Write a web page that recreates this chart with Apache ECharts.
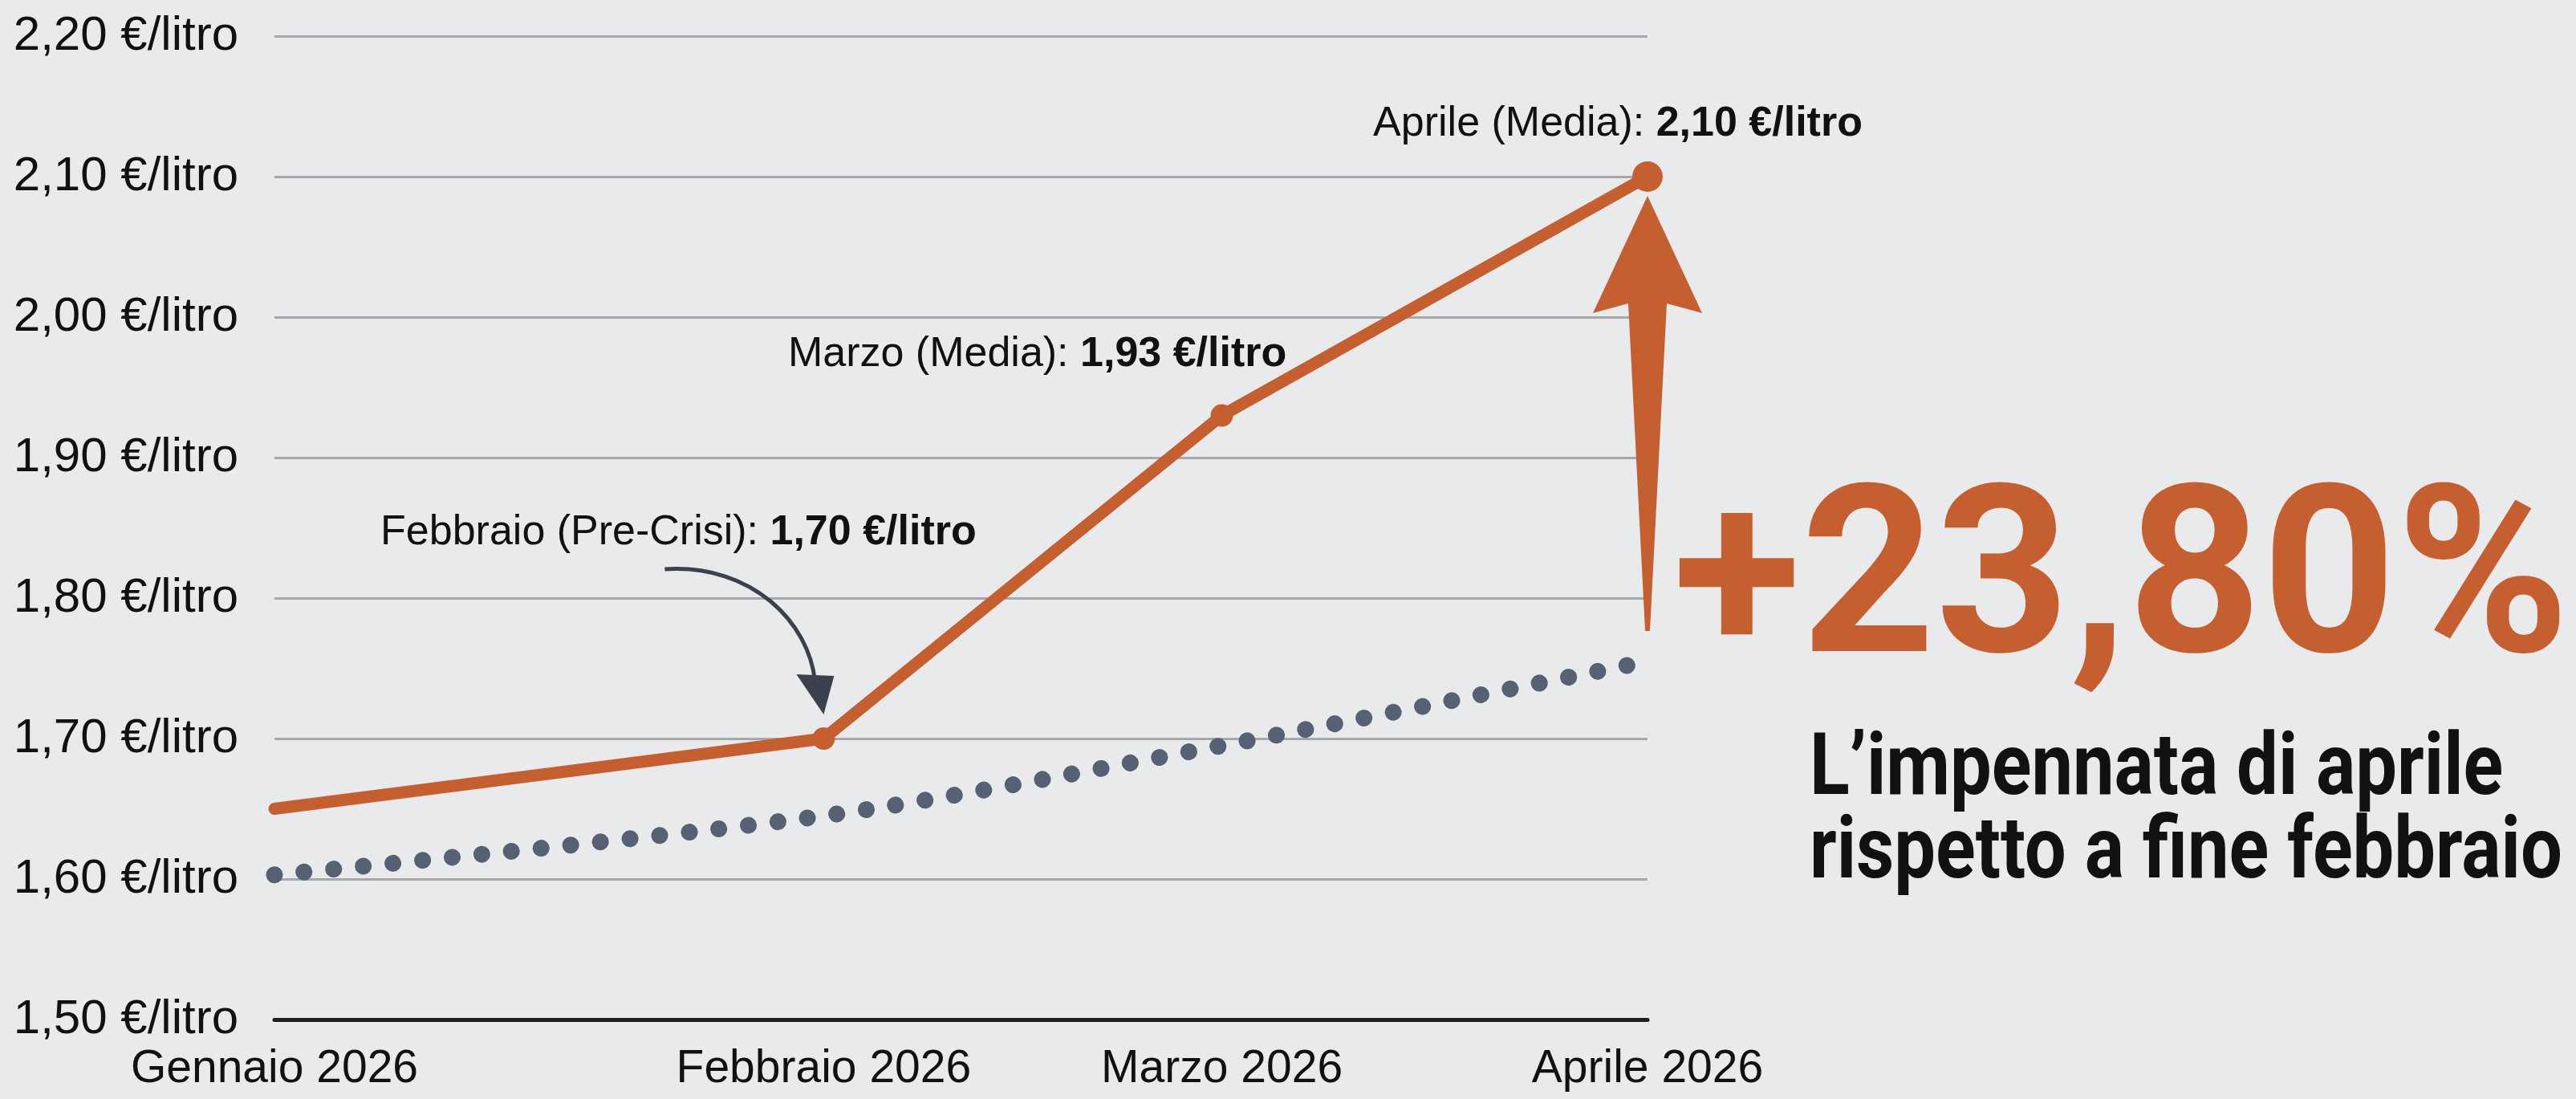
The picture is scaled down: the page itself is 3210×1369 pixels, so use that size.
<!DOCTYPE html>
<html lang="it">
<head>
<meta charset="UTF-8">
<title>Prezzo carburante 2026</title>
<script src="https://cdn.jsdelivr.net/npm/echarts@6.0.0/dist/echarts.min.js"></script>
<style>
    html, body { margin: 0; padding: 0; background: #e9eaeb; }
    #main { width: 3210px; height: 1369px; }
</style>
</head>
<body>
<div id="main"></div>
<script>
    // mesi sull'asse x e loro posizione (spaziatura non uniforme)
    var mesi = ['Gennaio 2026', 'Febbraio 2026', 'Marzo 2026', 'Aprile 2026'];
    var posizioni = [0, 1.2, 2.07, 3];
    // prezzo medio in €/litro
    var prezzo = [1.65, 1.70, 1.93, 2.10];
    var etichette = ['', 'Febbraio (Pre-Crisi)', 'Marzo (Media)', 'Aprile (Media)'];
    // andamento tendenziale (linea a puntini)
    var tendenza = [1.603, 1.645, 1.695, 1.755];
    // asse y
    var yMin = 1.5, yMax = 2.2, yStep = 0.1;
    // riquadro a destra
    var variazione = '+23,80%';
    var sottotitolo = ['L\u2019impennata di aprile', 'rispetto a fine febbraio'];

    var ARANCIO = '#c65f30';
    var SANS = "'Liberation Sans', Arial, sans-serif";

    function euro(v) {
        return v.toFixed(2).replace('.', ',') + ' \u20ac/litro';
    }

    var offsets = [[0, 0], [-181, -256], [-230, -76], [-37, -65]];
    var sizes = [0, 28, 28, 38];

    var myChart = echarts.init(document.getElementById('main'));

    var option = {
        backgroundColor: '#e9eaeb',
        animation: false,
        grid: { left: 342, right: 1157, top: 45, bottom: 99, outerBoundsMode: 'none' },
        xAxis: {
            type: 'value',
            min: 0,
            max: 3,
            axisLine: { show: true, onZero: false, lineStyle: { color: '#1e1e1e', width: 5 } },
            axisTick: { show: false },
            splitLine: { show: false },
            axisLabel: {
                customValues: posizioni,
                showMinLabel: true,
                showMaxLabel: true,
                hideOverlap: false,
                formatter: function (v) {
                    var i = posizioni.indexOf(v);
                    return i >= 0 ? mesi[i] : '';
                },
                fontFamily: SANS,
                fontSize: 57,
                color: '#111',
                margin: 34
            }
        },
        yAxis: {
            type: 'value',
            min: yMin,
            max: yMax,
            interval: yStep,
            axisLine: { show: false },
            axisTick: { show: false },
            splitLine: { lineStyle: { color: '#a5a8ac', width: 3 } },
            axisLabel: {
                formatter: euro,
                fontFamily: SANS,
                fontSize: 60,
                color: '#111',
                margin: 45
            }
        },
        series: [
            {
                name: 'Tendenza',
                type: 'line',
                z: 2,
                smooth: 0.3,
                symbol: 'none',
                data: tendenza.map(function (v, i) { return [posizioni[i], v]; }),
                lineStyle: { color: '#566274', width: 21, type: [0.1, 37], cap: 'round' }
            },
            {
                name: 'Prezzo',
                type: 'line',
                z: 3,
                symbol: 'circle',
                lineStyle: { color: ARANCIO, width: 15, cap: 'round', join: 'round' },
                itemStyle: { color: ARANCIO },
                label: {
                    position: 'inside',
                    formatter: function (p) {
                        return '{n|' + etichette[p.dataIndex] + ': }{b|' + euro(p.value[1]) + '}';
                    },
                    rich: {
                        n: { fontFamily: SANS, fontSize: 52, color: '#111' },
                        b: { fontFamily: SANS, fontSize: 52, fontWeight: 'bold', color: '#111' }
                    }
                },
                data: prezzo.map(function (v, i) {
                    return {
                        value: [posizioni[i], v],
                        symbolSize: sizes[i],
                        label: { show: i > 0, offset: offsets[i] }
                    };
                })
            }
        ]
    };

    myChart.setOption(option);

    // frecce e testi di commento
    var pFeb = myChart.convertToPixel({ gridIndex: 0 }, [posizioni[1], prezzo[1]]);
    var pApr = myChart.convertToPixel({ gridIndex: 0 }, [posizioni[3], prezzo[3]]);

    function pts(base, list) {
        return list.map(function (d) { return [base[0] + d[0], base[1] + d[1]]; });
    }

    myChart.setOption({
        graphic: [
            {
                type: 'bezierCurve',
                z: 10,
                shape: {
                    x1: pFeb[0] - 198, y1: pFeb[1] - 211,
                    cpx1: pFeb[0] - 88, cpy1: pFeb[1] - 218,
                    cpx2: pFeb[0] - 18, cpy2: pFeb[1] - 143,
                    x2: pFeb[0] - 11, y2: pFeb[1] - 72
                },
                style: { stroke: '#3b424e', lineWidth: 5, fill: null }
            },
            {
                type: 'polygon',
                z: 10,
                shape: { points: pts(pFeb, [[-34, -80], [13, -78], [0, -30]]) },
                style: { fill: '#3b424e' }
            },
            {
                type: 'polygon',
                z: 10,
                shape: {
                    points: pts(pApr, [[0, 24], [68, 170], [24, 158], [3, 566], [-3, 566], [-24, 158], [-68, 170]])
                },
                style: { fill: ARANCIO }
            },
            {
                type: 'text',
                z: 10,
                x: 2085,
                y: 738,
                style: {
                    text: variazione,
                    font: 'bold 292px Roboto',
                    fill: ARANCIO,
                    align: 'left',
                    verticalAlign: 'middle'
                }
            },
            {
                type: 'text',
                z: 10,
                x: 2255,
                y: 962,
                scaleX: 0.86,
                style: {
                    text: sottotitolo[0],
                    font: 'bold 107px Roboto',
                    fill: '#111',
                    align: 'left',
                    verticalAlign: 'middle'
                }
            },
            {
                type: 'text',
                z: 10,
                x: 2255,
                y: 1066,
                scaleX: 0.86,
                style: {
                    text: sottotitolo[1],
                    font: 'bold 107px Roboto',
                    fill: '#111',
                    align: 'left',
                    verticalAlign: 'middle'
                }
            }
        ]
    });
</script>
</body>
</html>
